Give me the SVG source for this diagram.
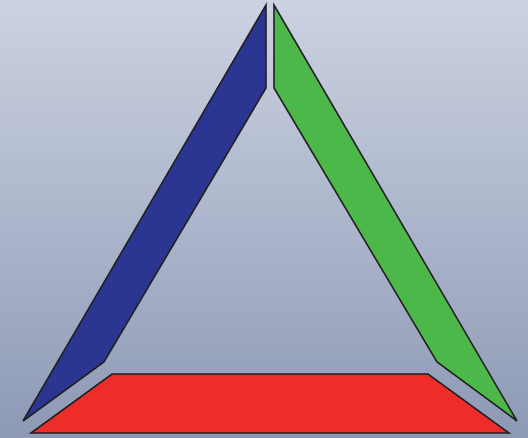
<svg xmlns="http://www.w3.org/2000/svg" width="528" height="438" viewBox="0 0 528 438">
<defs>
<linearGradient id="bg" x1="0" y1="0" x2="0" y2="1">
<stop offset="0" stop-color="#CCD2E1"/>
<stop offset="1" stop-color="#8D99B5"/>
</linearGradient>
<style>
.seg{stroke:#231F20;stroke-width:1.6;stroke-linejoin:miter}
</style>
</defs>
<rect width="528" height="438" fill="url(#bg)"/>
<g id="blue"><polygon class="seg" fill="#2B3592" points="266,5 266,88 104,362 23,421"/></g>
<g id="green"><polygon class="seg" fill="#4CB84A" points="274,5 274,88 437,362 517,421"/></g>
<g id="red"><polygon class="seg" fill="#EE2D2A" points="112,374 428,374 509,433 31,433"/></g>
</svg>
